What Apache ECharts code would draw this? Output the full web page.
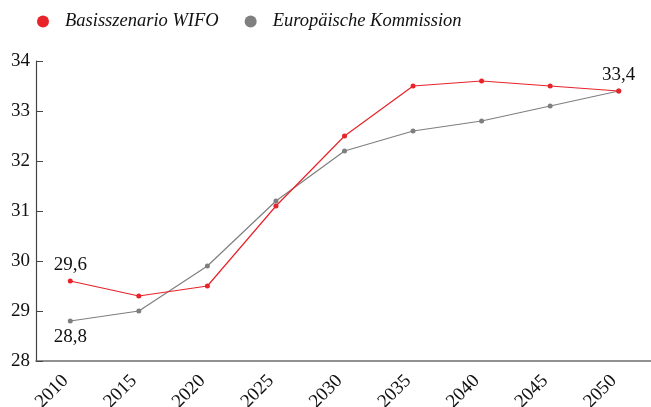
<!DOCTYPE html>
<html style="height: 100%">
<head>
    <meta charset="utf-8">
    <script src="https://cdn.jsdelivr.net/npm/echarts@6/dist/echarts.min.js"></script>
</head>
<body style="height: 100%; margin: 0">
    <div id="main" style="width:651px;height:407px;"></div>
    <script type="text/javascript">
        var years = ['2010', '2015', '2020', '2025', '2030', '2035', '2040', '2045', '2050'];
        var wifo = [29.6, 29.3, 29.5, 31.1, 32.5, 33.5, 33.6, 33.5, 33.4];
        var ec = [28.8, 29.0, 29.9, 31.2, 32.2, 32.6, 32.8, 33.1, 33.4];
        // which points carry a value label, and where
        var wifoLabels = { 0: 'top' };
        var ecLabels = { 0: 'bottom', 8: 'top' };

        var font = 'Liberation Serif';

        function withLabels(values, where) {
            return values.map(function (v, i) {
                if (!where[i]) return v;
                return {
                    value: v,
                    label: {
                        show: true,
                        position: where[i],
                        distance: 4,
                        formatter: String(v).replace('.', ','),
                        fontFamily: font,
                        fontSize: 19,
                        color: '#111'
                    }
                };
            });
        }

        var myChart = echarts.init(document.getElementById('main'));
        var option = {
            animation: false,
            legend: {
                top: 7,
                left: 32,
                itemGap: 26,
                itemWidth: 12,
                itemHeight: 12,
                icon: 'circle',
                textStyle: { fontFamily: font, fontStyle: 'italic', fontSize: 18.5, color: '#111', padding: [0, 0, 0, 11] }
            },
            grid: { left: 36, right: -2, top: 61, bottom: 46, containLabel: false, outerBoundsMode: 'none' },
            xAxis: {
                type: 'category',
                data: years,
                boundaryGap: true,
                axisLine: { lineStyle: { color: '#6e6e6e', width: 1.6 } },
                axisTick: { show: false },
                axisLabel: { rotate: 45, margin: 12, padding: [0, 7, 0, 0], fontFamily: font, fontSize: 19, color: '#111', interval: 0 }
            },
            yAxis: {
                type: 'value',
                min: 28,
                max: 34,
                interval: 1,
                splitLine: { show: false },
                axisLine: { show: true, lineStyle: { color: '#444', width: 1.2 } },
                axisTick: { show: true, inside: true, length: 7, lineStyle: { color: '#444' } },
                axisLabel: { margin: 6, fontFamily: font, fontSize: 19, color: '#111' }
            },
            series: [{
                name: 'Basisszenario WIFO',
                type: 'line',
                data: withLabels(wifo, wifoLabels),
                color: '#e8232a',
                symbol: 'circle',
                symbolSize: 5,
                lineStyle: { width: 1.2 },
                z: 3
            }, {
                name: 'Europäische Kommission',
                type: 'line',
                data: withLabels(ec, ecLabels),
                color: '#7f7f7f',
                symbol: 'circle',
                symbolSize: 5,
                lineStyle: { width: 1.2 },
                z: 2
            }]
        };
        myChart.setOption(option);
    </script>
</body>
</html>
